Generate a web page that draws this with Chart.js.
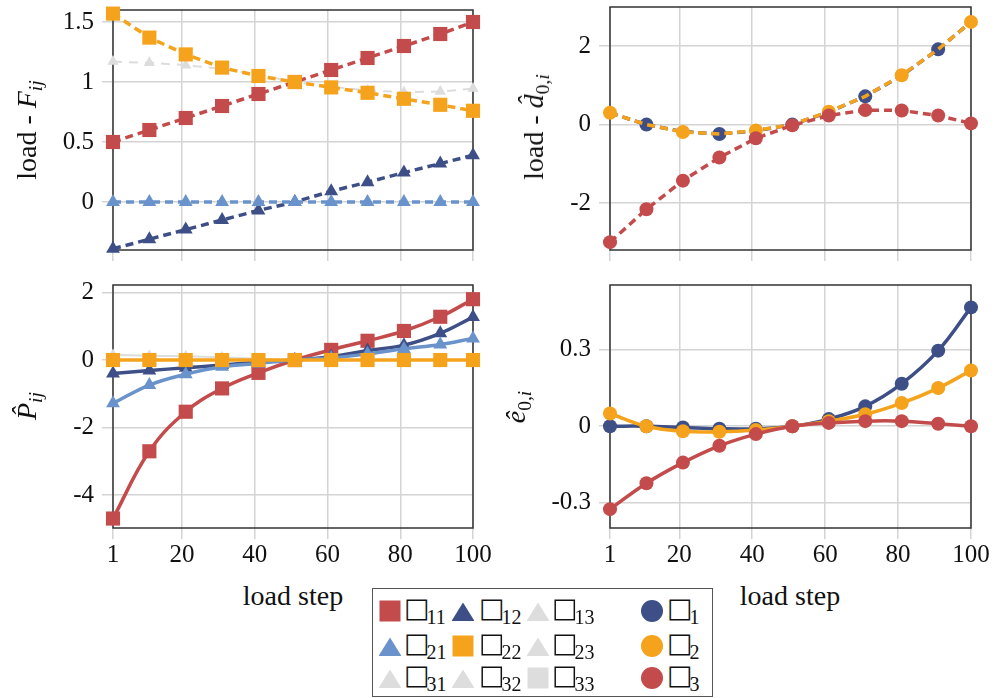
<!DOCTYPE html>
<html>
<head>
<meta charset="utf-8">
<script src="https://cdn.jsdelivr.net/npm/chart.js@4.4.0/dist/chart.umd.min.js"></script>
<style>
  body { margin: 0; background: #fff; }
  #page { position: relative; width: 995px; height: 698px; overflow: hidden;
          font-family: 'Liberation Serif', serif; color: #111; }
  canvas { position: absolute; }
  .ytitle { position: absolute; transform: translate(-50%, -50%) rotate(-90deg);
            white-space: nowrap; font-size: 28px; line-height: 1; }
  .xtitle { position: absolute; transform: translate(-50%, -50%);
            white-space: nowrap; font-size: 28px; line-height: 1; }
  sub { font-size: 0.7em; vertical-align: -0.3em; line-height: 0; }
  #legend { position: absolute; left: 372px; top: 588px; width: 341px; height: 109px;
            border: 1.5px solid #555; box-sizing: border-box; }
  .mk { position: absolute; width: 21px; height: 21px; transform: translate(-50%, -50%); }
  .lab { position: absolute; transform: translateY(-62%); white-space: nowrap; line-height: 1; }
  .lab .bx { font-family: 'DejaVu Sans', sans-serif; font-size: 27px; margin-left: -2px; margin-right: -3px; }
  .lab sub { font-size: 20px; vertical-align: -0.35em; }
</style>
</head>
<body>
<div id="page">
  <canvas id="cF" width="500" height="270" style="left:0;top:0"></canvas>
  <canvas id="cD" width="498" height="270" style="left:497px;top:0"></canvas>
  <canvas id="cP" width="500" height="300" style="left:0;top:275px"></canvas>
  <canvas id="cE" width="498" height="300" style="left:497px;top:275px"></canvas>

  <div class="ytitle" style="left:27px;top:130px">load - <i>F</i><sub><i>ij</i></sub></div>
  <div class="ytitle" style="left:534px;top:127px">load - <i>d&#770;</i><sub>0,<i>i</i></sub></div>
  <div class="ytitle" style="left:27px;top:406px"><i>P&#770;</i><sub><i>ij</i></sub></div>
  <div class="ytitle" style="left:516px;top:407px"><i>ê</i><sub>0,<i>i</i></sub></div>
  <div class="xtitle" style="left:293px;top:596px">load step</div>
  <div class="xtitle" style="left:790px;top:596px">load step</div>

  <div id="legend"></div>
</div>
<script>
// load steps where values were stored
const steps = [1, 11, 21, 31, 41, 51, 61, 71, 81, 91, 100];
const xTicks = [1, 20, 40, 60, 80, 100];

// top left: load - F_ij
const F11 = [0.5, 0.6, 0.7, 0.8, 0.9, 1.0, 1.1, 1.2, 1.3, 1.4, 1.5];
const F12 = [-0.39, -0.31, -0.23, -0.15, -0.07, 0.0, 0.09, 0.165, 0.245, 0.32, 0.39];
const F13 = [1.17, 1.16, 1.14, 1.11, 1.06, 1.0, 0.96, 0.93, 0.915, 0.92, 0.945];
const F21 = [0, 0, 0, 0, 0, 0, 0, 0, 0, 0, 0];
const F22 = [1.57, 1.37, 1.23, 1.12, 1.05, 1.0, 0.955, 0.91, 0.86, 0.81, 0.76];
const yTicksF = [0, 0.5, 1, 1.5];

// top right: load - d_0,i
const d1 = [0.3, 0.0, -0.18, -0.24, -0.16, 0.0, 0.32, 0.72, 1.25, 1.92, 2.62];
const d2 = [0.3, 0.0, -0.19, -0.24, -0.15, 0.0, 0.33, 0.72, 1.26, 1.92, 2.62];
const d3 = [-3.0, -2.16, -1.43, -0.84, -0.35, -0.02, 0.23, 0.37, 0.36, 0.23, 0.03];
const yTicksD = [-2, 0, 2];

// bottom left: P_ij
const P11 = [-4.69, -2.7, -1.53, -0.84, -0.38, 0.0, 0.3, 0.57, 0.86, 1.28, 1.8];
const P12 = [-0.4, -0.31, -0.23, -0.15, -0.06, 0.0, 0.1, 0.28, 0.44, 0.79, 1.27];
const P13 = [0.15, 0.13, 0.11, 0.08, 0.04, 0.0, 0.0, 0.0, 0.0, 0.0, 0.0];
const P21 = [-1.28, -0.74, -0.42, -0.2, -0.1, 0.0, 0.06, 0.18, 0.33, 0.46, 0.64];
const P22 = [0, 0, 0, 0, 0, 0, 0, 0, 0, 0, 0];
const yTicksP = [-4, -2, 0, 2];

// bottom right: e_0,i
const e1 = [0, 0, -0.005, -0.01, -0.01, 0, 0.028, 0.078, 0.167, 0.297, 0.467];
const e2 = [0.05, 0, -0.02, -0.022, -0.015, 0, 0.02, 0.047, 0.091, 0.15, 0.219];
const e3 = [-0.326, -0.224, -0.143, -0.077, -0.031, 0, 0.013, 0.02, 0.02, 0.01, 0];
const yTicksE = [-0.3, 0, 0.3];

const legendMatrix = ['11', '12', '13', '21', '22', '23', '31', '32', '33'];
const legendVector = ['1', '2', '3'];

const RED = '#c44b4b', NAVY = '#3d4f86', BLUE = '#6a93cb', ORANGE = '#f5a31c', GRAY = '#dddddd';
const GRID = '#d4d4d4';
const tickFont = { family: "'Liberation Serif', serif", size: 25 };

function pts(vals) {
  return steps.map((x, i) => ({ x: x, y: vals[i] }));
}

function series(vals, color, shape, extra) {
  return Object.assign({
    data: pts(vals),
    borderColor: color,
    backgroundColor: color,
    pointBackgroundColor: color,
    pointStyle: shape,
    pointRadius: shape == 'rect' ? 10 : shape == 'triangle' ? 8 : 7,
    pointBorderWidth: 0,
    borderWidth: 3.5,
    clip: false
  }, extra);
}

// box around the plot area, under the marks
const frame = {
  id: 'frame',
  beforeDatasetsDraw(chart) {
    const a = chart.chartArea, c = chart.ctx;
    c.save();
    c.strokeStyle = '#333';
    c.lineWidth = 1.5;
    c.strokeRect(a.left, a.top, a.right - a.left, a.bottom - a.top);
    c.restore();
  }
};

function makeChart(id, datasets, yMin, yMax, yTicks, showX, padTop, xHeight, padRight) {
  datasets.forEach((d, i) => d.order = -i);
  return new Chart(document.getElementById(id), {
    type: 'line',
    data: { datasets: datasets },
    options: {
      responsive: false,
      animation: false,
      events: [],
      layout: { padding: { left: 0, top: padTop, right: padRight, bottom: 0 } },
      plugins: { legend: { display: false }, tooltip: { enabled: false } },
      scales: {
        x: {
          type: 'linear', min: 1, max: 100,
          afterBuildTicks: s => { s.ticks = xTicks.map(v => ({ value: v })); },
          afterFit: s => { s.height = xHeight; s.paddingLeft = 0; s.paddingRight = 0; },
          grid: { color: GRID, lineWidth: 1.5, tickLength: 11 },
          border: { display: false },
          ticks: { display: showX, padding: 1, color: '#111', font: tickFont,
                   maxRotation: 0, autoSkip: false, callback: v => String(v) }
        },
        y: {
          type: 'linear', min: yMin, max: yMax,
          afterBuildTicks: s => { s.ticks = yTicks.map(v => ({ value: v })); },
          afterFit: s => { s.width = 113; s.paddingTop = 0; s.paddingBottom = 0; },
          grid: { color: GRID, lineWidth: 1.5, tickLength: 11 },
          border: { display: false },
          ticks: { padding: 8, color: '#111', font: tickFont, callback: v => String(v) }
        }
      }
    },
    plugins: [frame]
  });
}

const dash = [8, 5];
const odd = steps.map((s, i) => i % 2 ? 7 : 0);
const even = steps.map((s, i) => i % 2 ? 0 : 7);

makeChart('cF', [
  series(F11, RED, 'rect', { borderDash: dash }),
  series(F12, NAVY, 'triangle', { borderDash: dash }),
  series(F13, GRAY, 'triangle', { borderDash: [9, 7], borderWidth: 2, pointRadius: 6.5 }),
  series(F21, BLUE, 'triangle', { borderDash: dash }),
  series(F22, ORANGE, 'rect', { borderDash: dash })
], -0.4, 1.6, yTicksF, false, 7, 20, 27);

makeChart('cD', [
  series(d1, NAVY, 'circle', { borderDash: dash, pointRadius: odd }),
  series(d2, ORANGE, 'circle', { borderDash: dash, pointRadius: even }),
  series(d3, RED, 'circle', { borderDash: dash })
], -3.2, 3.0, yTicksD, false, 7, 20, 24);

makeChart('cP', [
  series(P11, RED, 'rect', { tension: 0.4 }),
  series(P12, NAVY, 'triangle', { tension: 0.4 }),
  series(P13, GRAY, 'triangle', { tension: 0.4, borderWidth: 2, pointRadius: 6.5 }),
  series(P21, BLUE, 'triangle', { tension: 0.4 }),
  series(P22, ORANGE, 'rect', { tension: 0.4 })
], -4.97, 2.22, yTicksP, true, 10, 47, 27);

makeChart('cE', [
  series(e1, NAVY, 'circle', { tension: 0.4 }),
  series(e2, ORANGE, 'circle', { tension: 0.4 }),
  series(e3, RED, 'circle', { tension: 0.4 })
], -0.4, 0.555, yTicksE, true, 10, 47, 24);

// legend, built from the names above
const legendColors = [RED, NAVY, GRAY, BLUE, ORANGE, GRAY, GRAY, GRAY, GRAY];
const legendShapes = ['rect', 'tri', 'tri', 'tri', 'rect', 'tri', 'tri', 'tri', 'rect'];
const vecColors = [NAVY, ORANGE, RED];
const rowsY = [22, 57, 89];
const markX = [17, 90, 165];
const textX = [33, 108, 181];
const leg = document.getElementById('legend');

function addEntry(cx, cy, tx, color, shape, sub) {
  const m = document.createElement('div');
  m.className = 'mk';
  m.style.left = cx + 'px';
  m.style.top = cy + 'px';
  m.style.background = color;
  if (shape == 'tri') { m.style.width = '23px'; m.style.clipPath = 'polygon(50% 0, 100% 88%, 0 88%)'; m.style.top = (cy + 2) + 'px'; }
  if (shape == 'circle') { m.style.width = '22px'; m.style.height = '22px'; m.style.borderRadius = '50%'; }
  leg.appendChild(m);
  const t = document.createElement('div');
  t.className = 'lab';
  t.style.left = tx + 'px';
  t.style.top = cy + 'px';
  t.innerHTML = '<span class="bx">□</span><sub>' + sub + '</sub>';
  leg.appendChild(t);
}

legendMatrix.forEach((name, i) => {
  const r = Math.floor(i / 3), c = i % 3;
  addEntry(markX[c], rowsY[r], textX[c], legendColors[i], legendShapes[i], name);
});
legendVector.forEach((name, i) => {
  addEntry(279, rowsY[i], 296, vecColors[i], 'circle', name);
});
</script>
</body>
</html>
